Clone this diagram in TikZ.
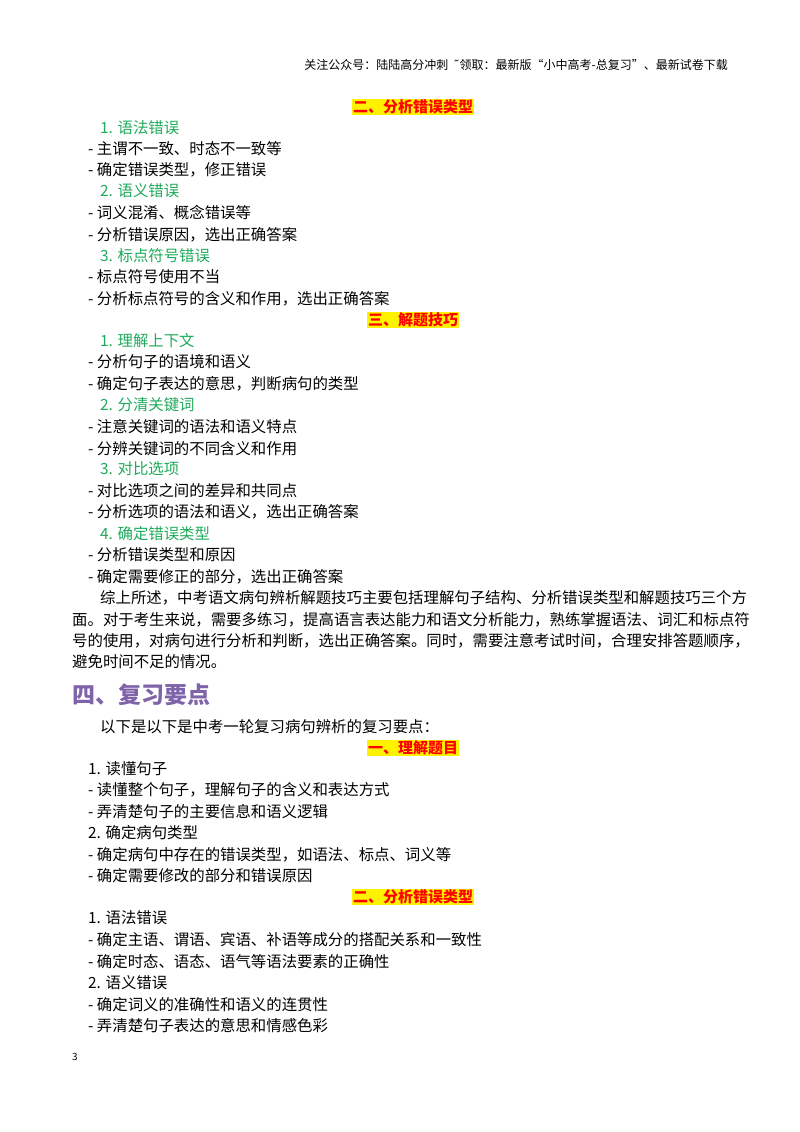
\documentclass[tikz,border=0pt]{standalone}
\usepackage{fontspec}
\setmainfont{Noto Sans CJK SC}
\newfontfamily\dejavu{DejaVu Sans}
\definecolor{grn}{RGB}{30,170,90}
\definecolor{purp}{RGB}{128,100,170}
\begin{document}
\begin{tikzpicture}[x=1pt,y=-1pt,
  t/.style={anchor=west,inner sep=0pt,font=\fontsize{15.4}{17}\selectfont},
  g/.style={t,text=grn},
  hd/.style={inner sep=1pt,fill=yellow,text=red,font=\fontsize{15}{17}\selectfont\bfseries},
  ]
\useasboundingbox (0,0) rectangle (800,1132);
\node[anchor=east,inner sep=0pt,font=\fontsize{12}{13}\selectfont] (hdr) at (728,65) {关注公众号：陆陆高分冲刺\ \ {\dejavu ˜}领取：最新版“小中高考-总复习”、最新试卷下载};
\node[hd] (h1) at (413,107) {二、分析错误类型};
\node[g] (a1) at (100,128) {1. 语法错误};
\node[t] (a2) at (88,149) {- 主谓不一致、时态不一致等};
\node[t] (a3) at (88,170) {- 确定错误类型，修正错误};
\node[g] (a4) at (100,191) {2. 语义错误};
\node[t] (a5) at (88,213) {- 词义混淆、概念错误等};
\node[t] (a6) at (88,235) {- 分析错误原因，选出正确答案};
\node[g] (a7) at (100,256) {3. 标点符号错误};
\node[t] (a8) at (88,277) {- 标点符号使用不当};
\node[t] (a9) at (88,299) {- 分析标点符号的含义和作用，选出正确答案};
\node[hd] (h2) at (413,320) {三、解题技巧};
\node[g] (b1) at (100,341) {1. 理解上下文};
\node[t] (b2) at (88,362) {- 分析句子的语境和语义};
\node[t] (b3) at (88,384) {- 确定句子表达的意思，判断病句的类型};
\node[g] (b4) at (100,405) {2. 分清关键词};
\node[t] (b5) at (88,427) {- 注意关键词的语法和语义特点};
\node[t] (b6) at (88,449) {- 分辨关键词的不同含义和作用};
\node[g] (b7) at (100,469) {3. 对比选项};
\node[t] (b8) at (88,491) {- 对比选项之间的差异和共同点};
\node[t] (b9) at (88,512) {- 分析选项的语法和语义，选出正确答案};
\node[g] (b10) at (100,534) {4. 确定错误类型};
\node[t] (b11) at (88,555) {- 分析错误类型和原因};
\node[t] (b12) at (88,577) {- 确定需要修正的部分，选出正确答案};
\node[t] (p1) at (100,598) {综上所述，中考语文病句辨析解题技巧主要包括理解句子结构、分析错误类型和解题技巧三个方};
\node[t] (p2) at (72,620) {面。对于考生来说，需要多练习，提高语言表达能力和语文分析能力，熟练掌握语法、词汇和标点符};
\node[t] (p3) at (72,641) {号的使用，对病句进行分析和判断，选出正确答案。同时，需要注意考试时间，合理安排答题顺序，};
\node[t] (p4) at (72,662) {避免时间不足的情况。};
\node[t,text=purp,font=\fontsize{23}{25}\selectfont\bfseries] (h4) at (72,695) {四、复习要点};
\node[t] (c0) at (100,727) {以下是以下是中考一轮复习病句辨析的复习要点：};
\node[hd] (h3) at (413,748) {一、理解题目};
\node[t] (c1) at (88,769) {1. 读懂句子};
\node[t] (c2) at (88,790) {- 读懂整个句子，理解句子的含义和表达方式};
\node[t] (c3) at (88,812) {- 弄清楚句子的主要信息和语义逻辑};
\node[t] (c4) at (88,833) {2. 确定病句类型};
\node[t] (c5) at (88,855) {- 确定病句中存在的错误类型，如语法、标点、词义等};
\node[t] (c6) at (88,876) {- 确定需要修改的部分和错误原因};
\node[hd] (h5) at (413,897) {二、分析错误类型};
\node[t] (d1) at (88,918) {1. 语法错误};
\node[t] (d2) at (88,940) {- 确定主语、谓语、宾语、补语等成分的搭配关系和一致性};
\node[t] (d3) at (88,962) {- 确定时态、语态、语气等语法要素的正确性};
\node[t] (d4) at (88,983) {2. 语义错误};
\node[t] (d5) at (88,1005) {- 确定词义的准确性和语义的连贯性};
\node[t] (d6) at (88,1026) {- 弄清楚句子表达的意思和情感色彩};
\node[t,font=\fontsize{10}{12}\selectfont] (pg) at (72,1057) {3};
\end{tikzpicture}
\end{document}
